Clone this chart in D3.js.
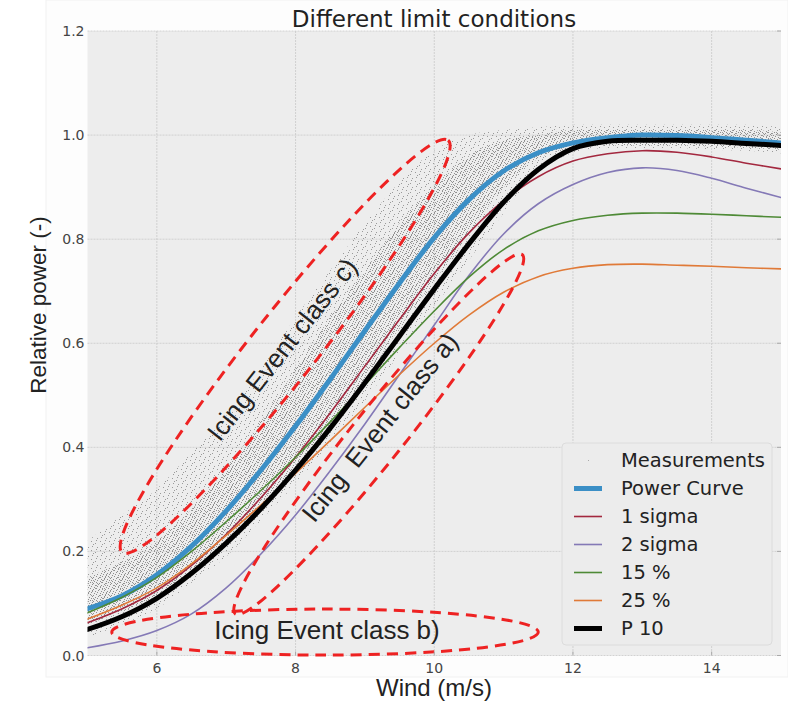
<!DOCTYPE html>
<html><head><meta charset="utf-8">
<script src="https://cdn.jsdelivr.net/npm/d3@7"></script>
<style>body{margin:0;background:#fff}svg{display:block}</style>
</head><body>
<svg id="c" width="788" height="703"></svg>
<script>
// ---- data ----
const wind = [5,5.5,6,6.5,7,7.5,8,8.5,9,9.5,10,10.5,11,11.5,12,12.5,13,13.5,14,14.5,15];
const powerCurve = [0.09,0.115,0.155,0.21,0.278,0.356,0.441,0.531,0.624,0.716,0.803,0.876,0.931,0.966,0.985,0.995,1.0,0.999,0.995,0.99,0.985];
const sigma1     = [0.063,0.09,0.125,0.173,0.233,0.303,0.381,0.466,0.556,0.646,0.734,0.812,0.874,0.92,0.95,0.964,0.97,0.967,0.958,0.946,0.935];
const sigma2     = [0.015,0.028,0.048,0.08,0.13,0.195,0.27,0.355,0.445,0.54,0.635,0.73,0.81,0.868,0.905,0.928,0.937,0.932,0.917,0.898,0.88];
const pct15      = [0.082,0.112,0.15,0.2,0.257,0.317,0.381,0.449,0.52,0.592,0.662,0.727,0.78,0.816,0.836,0.846,0.85,0.85,0.848,0.845,0.842];
const pct25      = [0.07,0.097,0.13,0.176,0.231,0.289,0.35,0.413,0.477,0.54,0.6,0.654,0.698,0.728,0.744,0.751,0.752,0.75,0.748,0.745,0.743];
const p10        = [0.05,0.075,0.11,0.158,0.216,0.282,0.356,0.437,0.524,0.614,0.704,0.791,0.871,0.934,0.974,0.988,0.99,0.99,0.988,0.984,0.98];
// measurement cloud envelopes
const measUpper  = [0.22,0.27,0.32,0.39,0.46,0.55,0.65,0.74,0.83,0.91,0.97,1.0,1.01,1.015,1.02,1.02,1.02,1.02,1.02,1.02,1.015];
const measLower  = [0.035,0.06,0.09,0.14,0.19,0.26,0.33,0.41,0.49,0.58,0.67,0.76,0.85,0.93,0.965,0.975,0.975,0.975,0.972,0.97,0.965];
const coreUpper  = [0.15,0.18,0.22,0.28,0.36,0.45,0.55,0.65,0.74,0.83,0.9,0.96,0.99,1.0,1.01,1.01,1.01,1.01,1.01,1.01,1.005];
const coreLower  = [0.06,0.085,0.115,0.165,0.22,0.29,0.36,0.445,0.53,0.63,0.72,0.81,0.9,0.955,0.975,0.98,0.98,0.98,0.978,0.976,0.972];
const xTicks = [6,8,10,12,14];
const yTicks = [0.0,0.2,0.4,0.6,0.8,1.0,1.2];
const legendLabels = ["Measurements","Power Curve","1 sigma","2 sigma","15 %","25 %","P 10"];
// ellipses in data coords: major-axis ends [x1,y1,x2,y2]
const ellipseC = [5.5,0.198,10.2,0.99];
const ellipseA = [7.13,0.08,11.27,0.77];
const ellipseB = [5.35,0.045,11.5,0.045];

const series = [
  {name:"1 sigma", vals:sigma1, color:"#a3283f", w:1.6},
  {name:"2 sigma", vals:sigma2, color:"#8479b6", w:1.6},
  {name:"15 %", vals:pct15, color:"#4e8a36", w:1.6},
  {name:"25 %", vals:pct25, color:"#e07a38", w:1.6},
  {name:"Power Curve", vals:powerCurve, color:"#3b8fc6", w:5},
  {name:"P 10", vals:p10, color:"#000000", w:5}
];
const drawOrder = ["Power Curve","1 sigma","2 sigma","15 %","25 %","P 10"];

const L=87.5,R=781,T=31,B=655.5;
const x = d3.scaleLinear().domain([5,15]).range([L,R]);
const y = d3.scaleLinear().domain([0,1.2]).range([B,T]);
const svg = d3.select("#c");

const defs = svg.append("defs");
defs.append("clipPath").attr("id","clip").append("rect").attr("x",L).attr("y",T).attr("width",R-L).attr("height",B-T);
const p1 = defs.append("pattern").attr("id","sparse").attr("width",9).attr("height",9).attr("patternUnits","userSpaceOnUse");
[[1,1],[5,3],[2,6],[7,7],[6,0],[3,4]].forEach(d=>p1.append("rect").attr("x",d[0]).attr("y",d[1]).attr("width",1).attr("height",1).attr("fill","#9a9a9a"));
const p2 = defs.append("pattern").attr("id","dense").attr("width",6).attr("height",6).attr("patternUnits","userSpaceOnUse");
[[0,0],[3,1],[5,3],[1,4],[4,5],[2,2]].forEach(d=>p2.append("rect").attr("x",d[0]).attr("y",d[1]).attr("width",1).attr("height",1).attr("fill","#8e8e8e"));

// faint figure frame
svg.append("rect").attr("x",46).attr("y",0).attr("width",742).attr("height",677).attr("fill","#fdfdfd").attr("stroke","#f1f1f1");
// plot background
svg.append("rect").attr("x",L).attr("y",T).attr("width",R-L).attr("height",B-T).attr("fill","#ededed");

// grid
const g = svg.append("g");
g.selectAll(".gx").data(xTicks).join("line").attr("x1",d=>x(d)).attr("x2",d=>x(d)).attr("y1",T).attr("y2",B)
  .attr("stroke","#c9c9c9").attr("stroke-width",0.8).attr("stroke-dasharray","2,1");
g.selectAll(".gy").data(yTicks).join("line").attr("y1",d=>y(d)).attr("y2",d=>y(d)).attr("x1",L).attr("x2",R)
  .attr("stroke","#c9c9c9").attr("stroke-width",0.8).attr("stroke-dasharray","2,1");

const plot = svg.append("g").attr("clip-path","url(#clip)");
const idx = d3.range(wind.length);
const area = (lo,hi)=>d3.area().x(i=>x(wind[i])).y0(i=>y(lo[i])).y1(i=>y(hi[i])).curve(d3.curveMonotoneX)(idx);
plot.append("path").attr("d",area(measLower,measUpper)).attr("fill","url(#sparse)");
plot.append("path").attr("d",area(coreLower,coreUpper)).attr("fill","url(#dense)");

const line = vals=>d3.line().x(i=>x(wind[i])).y(i=>y(vals[i])).curve(d3.curveCatmullRom.alpha(0.5))(idx);
drawOrder.forEach(n=>{
  const s = series.find(d=>d.name===n);
  plot.append("path").attr("d",line(s.vals)).attr("fill","none").attr("stroke",s.color).attr("stroke-width",s.w).attr("stroke-linecap","round");
});

// ellipses
function ellipse(e, halfW){
  const x1=x(e[0]),y1=y(e[1]),x2=x(e[2]),y2=y(e[3]);
  const cx=(x1+x2)/2, cy=(y1+y2)/2;
  const a = Math.hypot(x2-x1,y2-y1)/2;
  const ang = Math.atan2(y2-y1,x2-x1)*180/Math.PI;
  svg.append("ellipse").attr("cx",cx).attr("cy",cy).attr("rx",a).attr("ry",halfW)
    .attr("transform",`rotate(${ang},${cx},${cy})`)
    .attr("fill","none").attr("stroke","#ee2222").attr("stroke-width",3).attr("stroke-dasharray","11,7");
  return {cx,cy,ang};
}
const eC = ellipse(ellipseC,33);
const eA = ellipse(ellipseA,26);
const eB = ellipse(ellipseB,23);

const annFont = "'Liberation Sans', Arial, sans-serif";
function ann(txt, cx, cy, ang){
  svg.append("text").attr("x",cx).attr("y",cy).attr("transform",`rotate(${ang},${cx},${cy})`)
    .attr("text-anchor","middle").attr("dominant-baseline","central")
    .attr("font-family",annFont).attr("font-size",26).attr("fill","#222").style("white-space","pre").text(txt);
}
ann("Icing Event class c)", eC.cx-3, eC.cy+3, eC.ang);
ann("Icing  Event class a)", eA.cx+1, eA.cy-7, eA.ang);
ann("Icing Event class b)", eB.cx+2, eB.cy-2, 0);

// ticks
const tf = "'DejaVu Sans', sans-serif";
svg.selectAll(".tx").data(xTicks).join("text").attr("x",d=>x(d)).attr("y",B+17).attr("text-anchor","middle")
  .attr("font-family",tf).attr("font-size",14).attr("fill","#444").text(d=>d);
svg.selectAll(".ty").data(yTicks).join("text").attr("x",L-3).attr("y",d=>y(d)+5).attr("text-anchor","end")
  .attr("font-family",tf).attr("font-size",14).attr("fill","#444").text(d=>d.toFixed(1));
svg.selectAll(".tkx").data(xTicks).join("line").attr("x1",d=>x(d)).attr("x2",d=>x(d)).attr("y1",B).attr("y2",B-4).attr("stroke","#aaa");
svg.selectAll(".tky").data(yTicks).join("line").attr("y1",d=>y(d)).attr("y2",d=>y(d)).attr("x1",R).attr("x2",R-4).attr("stroke","#aaa");

// titles
svg.append("text").attr("x",434).attr("y",27).attr("text-anchor","middle").attr("font-family",tf).attr("font-size",23).attr("fill","#222").text("Different limit conditions");
svg.append("text").attr("x",434).attr("y",696).attr("text-anchor","middle").attr("font-family",annFont).attr("font-size",24).attr("fill","#222").text("Wind (m/s)");
svg.append("text").attr("transform","translate(46,305) rotate(-90)").attr("text-anchor","middle").attr("font-family",annFont).attr("font-size",22.5).attr("fill","#222").text("Relative power (-)");

// legend
const lg = svg.append("g");
lg.append("rect").attr("x",562).attr("y",443).attr("width",210).attr("height",202).attr("rx",4)
  .attr("fill","#ececec").attr("stroke","#dcdcdc");
const legendColors = {"Measurements":null};
series.forEach(s=>legendColors[s.name]=s);
legendLabels.forEach((lab,i)=>{
  const yy = 460.5 + i*28;
  const s = legendColors[lab];
  if(s){
    lg.append("line").attr("x1",574).attr("x2",602).attr("y1",yy).attr("y2",yy).attr("stroke",s.color).attr("stroke-width",s.w);
  } else {
    lg.append("rect").attr("x",588).attr("y",yy-0.5).attr("width",1).attr("height",1).attr("fill","#aaa");
  }
  lg.append("text").attr("x",621).attr("y",yy).attr("dominant-baseline","central").attr("font-family",tf)
    .attr("font-size",19.5).attr("fill","#222").text(lab);
});
</script>
</body></html>
